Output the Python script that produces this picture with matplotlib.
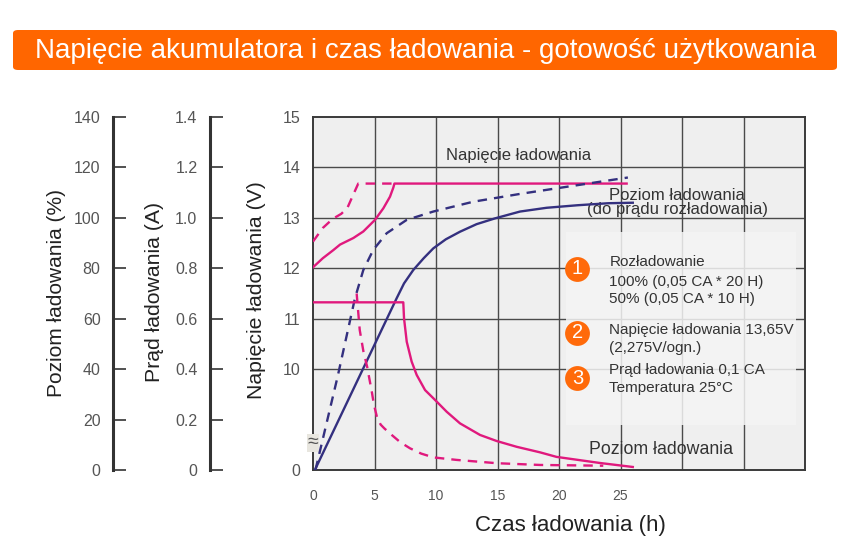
import numpy as np
import matplotlib
matplotlib.use("Agg")
import matplotlib.pyplot as plt
from matplotlib.patches import FancyBboxPatch, Rectangle

plt.rcParams['font.family'] = ['Liberation Sans', 'DejaVu Sans']

# charging voltage (V), 100% and 50% discharge
volt_t_100 = [0, 0.8, 1.65, 2.2, 3.28, 4.09, 5.04, 5.72, 6.26, 6.53, 6.62, 25.5]
volt_v_100 = [12.02, 12.2, 12.36, 12.47, 12.6, 12.73, 12.96, 13.19, 13.42, 13.6, 13.68, 13.68]
volt_t_50 = [0, 0.8, 1.6, 2.3, 2.8, 3.2, 3.68, 6.62]
volt_v_50 = [12.53, 12.8, 12.98, 13.08, 13.2, 13.42, 13.68, 13.68]

# charge level (%)
lvl_t_100 = [0.15, 6.8, 7.4, 8.15, 9.0, 9.78, 10.8, 11.95, 13.3, 14.8, 16.83, 19.0, 21.5, 24.0, 26.0]
lvl_p_100 = [0, 68.1, 74, 79.3, 84, 87.9, 91.5, 94.5, 97.5, 99.8, 102.5, 104, 105, 105.8, 106]
lvl_t_50 = [0.2, 2.0, 3.41, 4.09, 4.9, 5.99, 7.62, 9.78, 13.03, 16.83, 20.6, 25.6]
lvl_p_50 = [0, 37, 68.1, 79.3, 87.3, 93.9, 99.2, 102.5, 106.4, 109.5, 112.3, 116]

# charging current (A)
cur_t_100 = [0, 7.34, 7.4, 7.62, 8.02, 8.43, 9.11, 9.92, 10.87, 11.95, 13.58, 14.93,
             16.56, 18.46, 19.8, 23.3, 26.0]
cur_a_100 = [0.665, 0.665, 0.602, 0.509, 0.43, 0.377, 0.317, 0.278, 0.231, 0.185, 0.139, 0.115,
             0.092, 0.07, 0.052, 0.028, 0.012]
cur_t_50 = [3.55, 3.8, 4.1, 4.4, 4.8, 4.95, 5.2, 5.5, 5.8, 6.4, 7.1, 7.89, 8.8, 9.78,
            11.68, 14.93, 18.46, 23.6]
cur_a_50 = [0.70, 0.555, 0.47, 0.41, 0.305, 0.26, 0.21, 0.18, 0.165, 0.139, 0.11, 0.086,
            0.065, 0.05, 0.04, 0.027, 0.02, 0.017]

x_ticks = [0, 5, 10, 15, 20, 25]
v_ticks = [8, 10, 11, 12, 13, 14, 15]
v_labels = ["0", "10", "11", "12", "13", "14", "15"]
pct_ticks = [0, 20, 40, 60, 80, 100, 120, 140]
amp_ticks = [0, 0.2, 0.4, 0.6, 0.8, 1.0, 1.2, 1.4]
amp_labels = ["0", "0.2", "0.4", "0.6", "0.8", "1.0", "1.2", "1.4"]

notes = [
    ("1", ["Rozładowanie", "100% (0,05 CA * 20 H)", "50% (0,05 CA * 10 H)"]),
    ("2", ["Napięcie ładowania 13,65V", "(2,275V/ogn.)"]),
    ("3", ["Prąd ładowania 0,1 CA", "Temperatura 25°C"]),
]

pink = "#e0197d"
navy = "#34307f"
grey = "#555555"
W, H = 850, 547

fig = plt.figure(figsize=(8.5, 5.47), dpi=100)

# title bar
bar = FancyBboxPatch((13/W, 1-70/H), 824/W, 40/H, boxstyle="round,pad=0,rounding_size=0.006",
                     transform=fig.transFigure, facecolor="#ff6600", edgecolor="none")
fig.patches.append(bar)
fig.text(426/W, 1-51/H, "Napięcie akumulatora i czas ładowania - gotowość użytkowania",
         color="white", fontsize=20, ha="center", va="center")

ax = fig.add_axes([313/W, 1-470/H, 492/W, 353/H])
ax.set_facecolor("#efefef")
ax.set_xlim(0, 40)
ax.set_ylim(8, 15)
ax.set_xticks(np.arange(0, 41, 5))
ax.set_xticklabels([str(t) if t in x_ticks else "" for t in range(0, 41, 5)])
ax.set_yticks(v_ticks)
ax.set_yticklabels(v_labels)
ax.tick_params(axis="x", length=0, pad=14, labelsize=10, labelcolor=grey)
ax.tick_params(axis="y", length=0, pad=9, labelsize=11.5, labelcolor=grey)
for xv in range(5, 40, 5):
    ax.axvline(xv, color="#4a4a4a", lw=1.0, zorder=0.5)
for yv in [10, 11, 12, 13, 14]:
    ax.axhline(yv, color="#4a4a4a", lw=1.0, zorder=0.5)
for s in ax.spines.values():
    s.set_color("#3a3a3a")
    s.set_linewidth(1.4)

# notes box
ax.add_patch(Rectangle((20.6, 8.89), 18.7, 3.83, facecolor="#f4f4f4", alpha=0.85,
                       edgecolor="none", zorder=1))
circ_y = [11.99, 10.72, 9.82]
line_y = [[12.12, 11.73, 11.39], [10.78, 10.42], [9.98, 9.63]]
for (num, lines), cy, ly in zip(notes, circ_y, line_y):
    ax.scatter([21.5], [cy], s=320, color="#ff6a0a", zorder=3, linewidths=0)
    ax.text(21.5, cy, num, color="white", fontsize=14.5, ha="center", va="center", zorder=4)
    for txt, yy in zip(lines, ly):
        ax.text(24.1, yy, txt, fontsize=11, color="#333333", ha="left", va="center", zorder=4)

ax.text(16.7, 14.23, "Napięcie ładowania", fontsize=12, color="#333333", ha="center", va="center")
ax.text(29.6, 13.31, "Poziom ładowania\n(do prądu rozładowania)", fontsize=12, color="#333333",
        ha="center", va="center", linespacing=0.92)
ax.text(28.3, 8.40, "Poziom ładowania", fontsize=12.8, color="#333333", ha="center", va="center")
ax.text(0.0, 8.54, "≈", fontsize=14, color="#555555", ha="center", va="center", zorder=5,
        bbox=dict(facecolor="#e8e6df", edgecolor="none", pad=0.3))

ax.plot(volt_t_100, volt_v_100, color=pink, lw=1.7, zorder=3)
ax.plot(volt_t_50, volt_v_50, color=pink, lw=1.7, ls=(0, (4, 3)), zorder=3)

axp = ax.twinx()
axp.set_ylim(0, 140)
axp.axis("off")
axp.plot(lvl_t_100, lvl_p_100, color=navy, lw=1.7)
axp.plot(lvl_t_50, lvl_p_50, color=navy, lw=1.7, ls=(0, (4, 3)))

axa = ax.twinx()
axa.set_ylim(0, 1.4)
axa.axis("off")
axa.plot(cur_t_100, cur_a_100, color=pink, lw=1.7)
axa.plot(cur_t_50, cur_a_50, color=pink, lw=1.7, ls=(0, (4, 3)))

# side scales
def side_axis(xpix, lim, ticks, labels):
    a = fig.add_axes([xpix/W, 1-470/H, 0.0001, 353/H])
    a.set_ylim(*lim)
    a.set_xticks([])
    a.set_yticks(ticks)
    a.set_yticklabels(labels)
    for k in ["top", "bottom", "right"]:
        a.spines[k].set_visible(False)
    a.spines["left"].set_linewidth(2.2)
    a.spines["left"].set_color("#333333")
    a.tick_params(axis="y", direction="in", length=9, width=1.2, color="#333333",
                  pad=9, labelsize=11.5, labelcolor=grey)
    a.patch.set_visible(False)
    return a

side_axis(113, (0, 140), pct_ticks, [str(p) for p in pct_ticks])
side_axis(210, (0, 1.4), amp_ticks, amp_labels)

fig.text(57/W, 1-293/H, "Poziom ładowania (%)", rotation=90, fontsize=15, color="#222222",
         ha="center", va="center")
fig.text(155/W, 1-292/H, "Prąd ładowania (A)", rotation=90, fontsize=15.3, color="#222222",
         ha="center", va="center")
fig.text(257/W, 1-290/H, "Napięcie ładowania (V)", rotation=90, fontsize=15.3, color="#222222",
         ha="center", va="center")
fig.text(570/W, 1-525/H, "Czas ładowania (h)", fontsize=16, color="#222222",
         ha="center", va="center")

fig.savefig("out.png", dpi=100)
